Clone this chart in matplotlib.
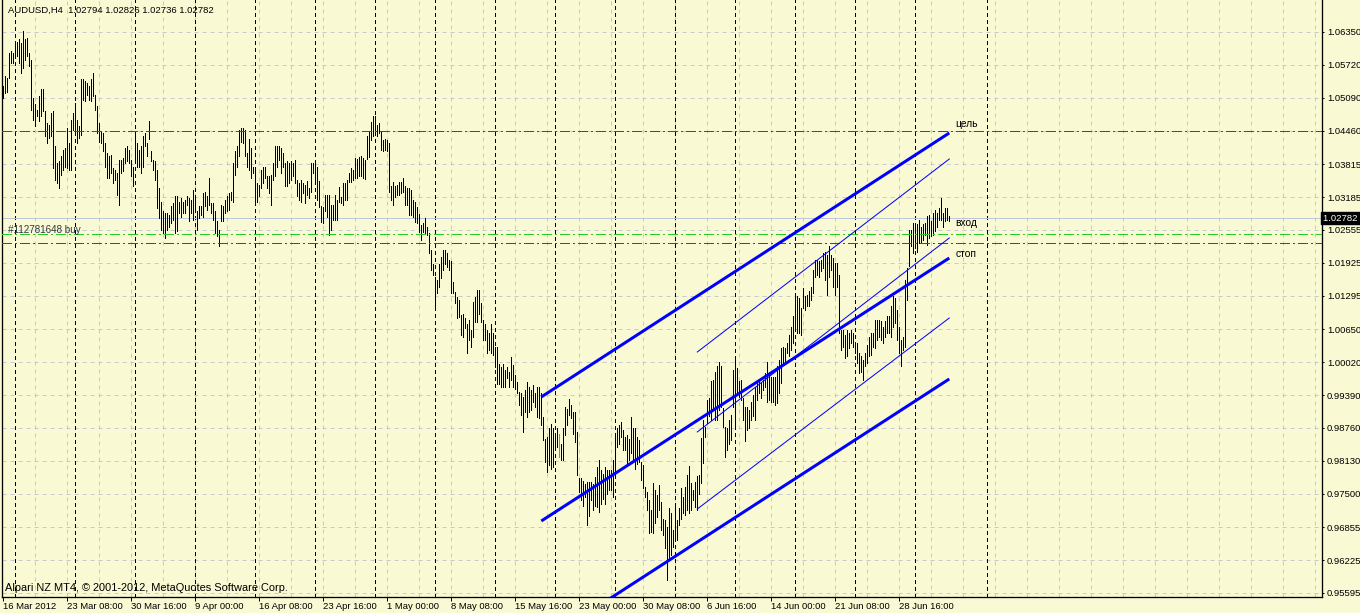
import numpy as np
import matplotlib
matplotlib.use("Agg")
import matplotlib.pyplot as plt
import matplotlib.transforms as mtransforms

# H4 bars, prices x 10000
highs = [
    10531, 10550, 10547, 10595, 10598, 10595, 10614, 10616, 10621, 10614,
    10637, 10621, 10624, 10595, 10582, 10509, 10496, 10486, 10512, 10525,
    10525, 10483, 10461, 10457, 10480, 10483, 10416, 10384, 10387, 10397,
    10409, 10413, 10451, 10422, 10467, 10480, 10499, 10467, 10454, 10544,
    10544, 10541, 10537, 10531, 10544, 10557, 10515, 10493, 10461, 10445,
    10441, 10422, 10403, 10397, 10400, 10374, 10371, 10365, 10390, 10390,
    10393, 10413, 10416, 10409, 10390, 10377, 10441, 10422, 10409, 10416,
    10435, 10441, 10422, 10464, 10406, 10390, 10387, 10371, 10336, 10310,
    10291, 10288, 10288, 10285, 10301, 10307, 10320, 10320, 10310, 10317,
    10310, 10313, 10320, 10317, 10313, 10333, 10317, 10291, 10301, 10301,
    10326, 10329, 10320, 10355, 10307, 10307, 10291, 10272, 10256, 10304,
    10301, 10313, 10320, 10326, 10329, 10384, 10406, 10416, 10448, 10451,
    10451, 10448, 10403, 10429, 10413, 10377, 10377, 10345, 10342, 10371,
    10377, 10377, 10358, 10358, 10361, 10384, 10416, 10416, 10416, 10413,
    10403, 10384, 10387, 10384, 10387, 10384, 10390, 10352, 10345, 10352,
    10345, 10342, 10349, 10336, 10384, 10384, 10384, 10377, 10350, 10302,
    10300, 10323, 10323, 10323, 10303, 10303, 10323, 10313, 10337, 10319,
    10345, 10345, 10351, 10364, 10374, 10371, 10393, 10391, 10396, 10397,
    10393, 10390, 10435, 10444, 10463, 10473, 10474, 10457, 10460, 10444,
    10428, 10430, 10428, 10422, 10339, 10348, 10339, 10342, 10348, 10348,
    10355, 10339, 10335, 10335, 10332, 10313, 10310, 10300, 10287, 10265,
    10268, 10278, 10262, 10249, 10217, 10191, 10166, 10159, 10191, 10204,
    10217, 10217, 10211, 10198, 10195, 10156, 10137, 10127, 10121, 10092,
    10095, 10086, 10076, 10083, 10063, 10118, 10127, 10140, 10140, 10115,
    10083, 10076, 10063, 10057, 10076, 10057, 10031, 10031, 9999, 9993,
    9999, 9987, 9993, 9983, 10012, 9996, 9977, 9964, 9945, 9942,
    9935, 9948, 9964, 9955, 9948, 9958, 9942, 9955, 9955, 9942,
    9897, 9855, 9859, 9875, 9884, 9875, 9859, 9875, 9865, 9846,
    9875, 9916, 9913, 9932, 9919, 9907, 9907, 9868, 9779, 9779,
    9775, 9769, 9772, 9772, 9772, 9769, 9782, 9801, 9814, 9795,
    9788, 9801, 9795, 9795, 9795, 9814, 9865, 9875, 9881, 9887,
    9871, 9859, 9862, 9855, 9897, 9875, 9875, 9859, 9853, 9811,
    9805, 9763, 9754, 9738, 9718, 9770, 9757, 9747, 9766, 9734,
    9702, 9699, 9686, 9722, 9712, 9680, 9728, 9699, 9722, 9760,
    9744, 9763, 9786, 9802, 9770, 9757, 9773, 9784, 9786, 9856,
    9891, 9878, 9930, 9933, 9965, 9968, 9984, 9994, 10003, 9994,
    9914, 9878, 9875, 9891, 9901, 9987, 10006, 9990, 9965, 9968,
    9933, 9917, 9917, 9910, 9926, 9939, 9955, 9965, 9968, 9962,
    9968, 9981, 10003, 9984, 9974, 9974, 9974, 9994, 10006, 10029,
    10032, 10029, 10038, 10054, 10070, 10090, 10131, 10128, 10125, 10106,
    10144, 10128, 10131, 10138, 10147, 10179, 10198, 10198, 10195, 10198,
    10211, 10214, 10208, 10224, 10208, 10202, 10192, 10192, 10170, 10064,
    10064, 10054, 10064, 10058, 10064, 10058, 10038, 10038, 10019, 10013,
    10006, 10019, 10035, 10051, 10058, 10058, 10083, 10083, 10083, 10080,
    10070, 10080, 10090, 10090, 10109, 10128, 10125, 10102, 10070, 10045,
    10051, 10160, 10182, 10256, 10256, 10269, 10262, 10266, 10275, 10262,
    10266, 10269, 10282, 10285, 10272, 10288, 10294, 10288, 10298, 10317,
    10288, 10298, 10298, 10283,
]
lows = [
    10508, 10518, 10520, 10547, 10576, 10576, 10585, 10589, 10576, 10557,
    10566, 10582, 10589, 10569, 10486, 10467, 10455, 10473, 10464, 10473,
    10483, 10435, 10422, 10432, 10435, 10374, 10352, 10345, 10336, 10361,
    10371, 10377, 10374, 10371, 10371, 10448, 10445, 10422, 10432, 10438,
    10505, 10502, 10515, 10505, 10502, 10512, 10486, 10441, 10425, 10422,
    10406, 10377, 10355, 10355, 10365, 10345, 10352, 10323, 10304, 10365,
    10368, 10384, 10387, 10384, 10358, 10339, 10390, 10377, 10377, 10365,
    10377, 10416, 10397, 10429, 10387, 10371, 10352, 10297, 10278, 10256,
    10249, 10240, 10256, 10262, 10269, 10275, 10249, 10253, 10288, 10281,
    10288, 10288, 10304, 10272, 10288, 10275, 10291, 10256, 10278, 10285,
    10281, 10301, 10294, 10304, 10288, 10275, 10249, 10243, 10224, 10272,
    10272, 10288, 10291, 10294, 10313, 10310, 10361, 10377, 10397, 10425,
    10422, 10397, 10377, 10371, 10355, 10365, 10307, 10310, 10320, 10336,
    10345, 10355, 10336, 10326, 10304, 10352, 10358, 10377, 10390, 10365,
    10377, 10339, 10339, 10345, 10352, 10358, 10345, 10320, 10313, 10310,
    10326, 10307, 10323, 10317, 10329, 10365, 10349, 10313, 10300, 10271,
    10269, 10291, 10281, 10246, 10255, 10275, 10275, 10275, 10310, 10307,
    10303, 10313, 10313, 10348, 10348, 10351, 10356, 10356, 10358, 10358,
    10356, 10353, 10391, 10396, 10428, 10435, 10441, 10435, 10441, 10409,
    10406, 10409, 10406, 10329, 10313, 10303, 10319, 10323, 10323, 10326,
    10329, 10303, 10303, 10284, 10284, 10281, 10271, 10268, 10252, 10236,
    10252, 10249, 10246, 10211, 10179, 10169, 10108, 10134, 10147, 10163,
    10179, 10191, 10185, 10179, 10134, 10134, 10115, 10086, 10089, 10054,
    10051, 10067, 10019, 10044, 10031, 10051, 10079, 10079, 10095, 10079,
    10044, 10044, 10019, 10025, 10019, 10015, 9993, 9961, 9961, 9955,
    9955, 9955, 9971, 9955, 9967, 9955, 9951, 9942, 9919, 9900,
    9868, 9907, 9897, 9907, 9910, 9926, 9916, 9897, 9894, 9881,
    9852, 9811, 9791, 9804, 9798, 9801, 9833, 9839, 9820, 9814,
    9814, 9862, 9881, 9900, 9894, 9865, 9849, 9785, 9753, 9737,
    9727, 9743, 9689, 9708, 9737, 9718, 9727, 9724, 9715, 9731,
    9740, 9731, 9750, 9756, 9756, 9743, 9782, 9839, 9846, 9859,
    9833, 9833, 9804, 9814, 9827, 9814, 9798, 9807, 9811, 9776,
    9760, 9744, 9718, 9674, 9677, 9674, 9693, 9706, 9718, 9680,
    9670, 9645, 9584, 9622, 9632, 9648, 9661, 9661, 9690, 9702,
    9712, 9709, 9718, 9712, 9718, 9738, 9725, 9718, 9750, 9770,
    9808, 9859, 9885, 9898, 9891, 9910, 9891, 9891, 9910, 9917,
    9878, 9821, 9834, 9846, 9853, 9917, 9878, 9942, 9936, 9930,
    9891, 9850, 9872, 9875, 9891, 9898, 9891, 9930, 9942, 9933,
    9949, 9955, 9926, 9930, 9926, 9926, 9920, 9923, 9942, 9962,
    9997, 10003, 10019, 10013, 10026, 10038, 10070, 10058, 10058, 10054,
    10106, 10102, 10109, 10109, 10122, 10134, 10166, 10170, 10166, 10176,
    10182, 10160, 10131, 10166, 10179, 10147, 10131, 10147, 10058, 10026,
    10032, 10010, 10013, 10029, 10038, 10032, 10019, 10000, 9981, 9984,
    9968, 9994, 10000, 10013, 10016, 10032, 10029, 10045, 10051, 10045,
    10038, 10051, 10058, 10058, 10051, 10070, 10077, 10045, 10019, 9994,
    10026, 10032, 10122, 10186, 10224, 10211, 10221, 10214, 10230, 10230,
    10237, 10246, 10227, 10240, 10243, 10246, 10253, 10262, 10275, 10275,
    10262, 10272, 10275, 10272,
]
green_bar = 278

price_levels = [1.06350, 1.05720, 1.05090, 1.04460, 1.03815, 1.03185,
                1.02555, 1.01925, 1.01295, 1.00650, 1.00020, 0.99390,
                0.98760, 0.98130, 0.97500, 0.96855, 0.96225, 0.95595]
time_ticks = [0, 32, 64, 96, 128, 160, 192, 224, 256, 288, 320, 352, 384, 416, 448]
time_labels = ["16 Mar 2012", "23 Mar 08:00", "30 Mar 16:00", "9 Apr 00:00",
               "16 Apr 08:00", "23 Apr 16:00", "1 May 00:00", "8 May 08:00",
               "15 May 16:00", "23 May 00:00", "30 May 08:00", "6 Jun 16:00",
               "14 Jun 00:00", "21 Jun 08:00", "28 Jun 16:00"]
week_starts = [6, 36, 66, 96, 126, 156, 186, 216, 246, 276, 306, 336, 366, 396,
               426, 456, 492]

target_price = 1.04460
entry_price = 1.02470
stop_price = 1.02300
bid_price = 1.02782

# channels: (bar0, price0, bar1, price1)
thick_lines = [(269, 0.99353, 473, 1.04414),
               (269, 0.96975, 473, 1.02017),
               (269, 0.94637, 473, 0.99698)]
thin_lines = [(347, 1.00215, 473, 1.03915),
              (347, 0.98682, 473, 1.02401),
              (347, 0.97205, 473, 1.00867)]

W, H = 1360, 613
PX = 0.72  # one pixel in points at dpi 100
BG = "#F9F9D3"
GRID = "#C6C8D2"
FS = 6.8

plt.rcParams["lines.scale_dashes"] = False
plt.rcParams["font.family"] = ["Liberation Sans", "DejaVu Sans"]

fig = plt.figure(figsize=(W / 100, H / 100), dpi=100)
fig.patch.set_facecolor(BG)
ax = fig.add_axes([2 / W, 16 / H, 1320 / W, 597 / H])
ax.set_facecolor(BG)
ax.set_xlim(-0.65, 659.35)
ax.set_ylim(0.95518, 1.06963)

# grid
for p in price_levels:
    ax.axhline(p, color=GRID, lw=PX, dashes=(4 * PX, 4 * PX), zorder=1)
for b in np.arange(16, 660, 16):
    ax.axvline(b, color=GRID, lw=PX, dashes=(4 * PX, 4 * PX), zorder=1)
for b in week_starts:
    ax.axvline(b, color="black", lw=PX, dashes=(3 * PX, 3 * PX), zorder=2,
               antialiased=False)

# bid line
ax.axhline(bid_price, color="#C0C6DA", lw=PX, zorder=2)

# bars
idx = np.arange(len(highs))
hi = np.array(highs) / 10000
lo = np.array(lows) / 10000
colors = ["#22CC22" if i == green_bar else "black" for i in idx]
ax.vlines(idx, lo, hi, colors=colors, lw=PX, antialiased=False, zorder=3)

# order levels
dd = (10 * PX, 3 * PX, 2 * PX, 3 * PX)
ax.axhline(target_price, color="#FF0000", lw=PX, dashes=dd, zorder=4, antialiased=False)
ax.axhline(stop_price, color="#FF0000", lw=PX, dashes=dd, zorder=4, antialiased=False)
ax.axhline(entry_price, color="#22CC22", lw=PX, dashes=dd, zorder=4, antialiased=False)

# channels
for b0, p0, b1, p1 in thick_lines:
    ax.plot([b0, b1], [p0, p1], color="#0000FF", lw=3 * PX, solid_capstyle="butt", zorder=5)
for b0, p0, b1, p1 in thin_lines:
    ax.plot([b0, b1], [p0, p1], color="#0000FF", lw=PX, zorder=5)

ax.text(476, 1.04586, "цель", fontsize=FS + 0.6, va="center", ha="left", zorder=6)
ax.text(476, 1.02689, "вход", fontsize=FS + 0.6, va="center", ha="left", zorder=6)
ax.text(476, 1.02094, "стоп", fontsize=FS + 0.6, va="center", ha="left", zorder=6)
ax.text(2.5, entry_price + 0.0009, "#112781648 buy", fontsize=FS + 0.3, color="#303840",
        va="center", ha="left", zorder=6)

# frame
for s in ["left", "bottom", "right"]:
    ax.spines[s].set_color("black")
    ax.spines[s].set_linewidth(PX * 1.3)
ax.spines["top"].set_visible(False)

ax.yaxis.tick_right()
ax.set_yticks(price_levels)
ax.set_yticklabels([f"{p:.5f}" for p in price_levels])
ax.tick_params(axis="y", direction="out", length=2 * PX, width=PX, pad=3 * PX,
               labelsize=FS, colors="black")
ax.set_xticks(time_ticks)
ax.set_xticklabels(time_labels, ha="left")
ax.tick_params(axis="x", direction="out", length=4 * PX, width=PX, pad=0.5,
               labelsize=FS, colors="black")

# bid price tag
tr = mtransforms.blended_transform_factory(ax.transAxes, ax.transData)
ax.text(1.0008, bid_price, "1.02782 ", transform=tr, fontsize=FS, color="white",
        va="center", ha="left", zorder=7,
        bbox=dict(boxstyle="square,pad=0.2", fc="black", ec="black"))

fig.text(8 / W, 1 - 10 / H, "AUDUSD,H4  1.02794 1.02826 1.02736 1.02782",
         fontsize=FS, va="center", ha="left")
fig.text(5 / W, 1 - 588 / H, "Alpari NZ MT4, © 2001-2012, MetaQuotes Software Corp.",
         fontsize=7.9, va="center", ha="left")

fig.savefig("out.png", dpi=100, facecolor=BG)
